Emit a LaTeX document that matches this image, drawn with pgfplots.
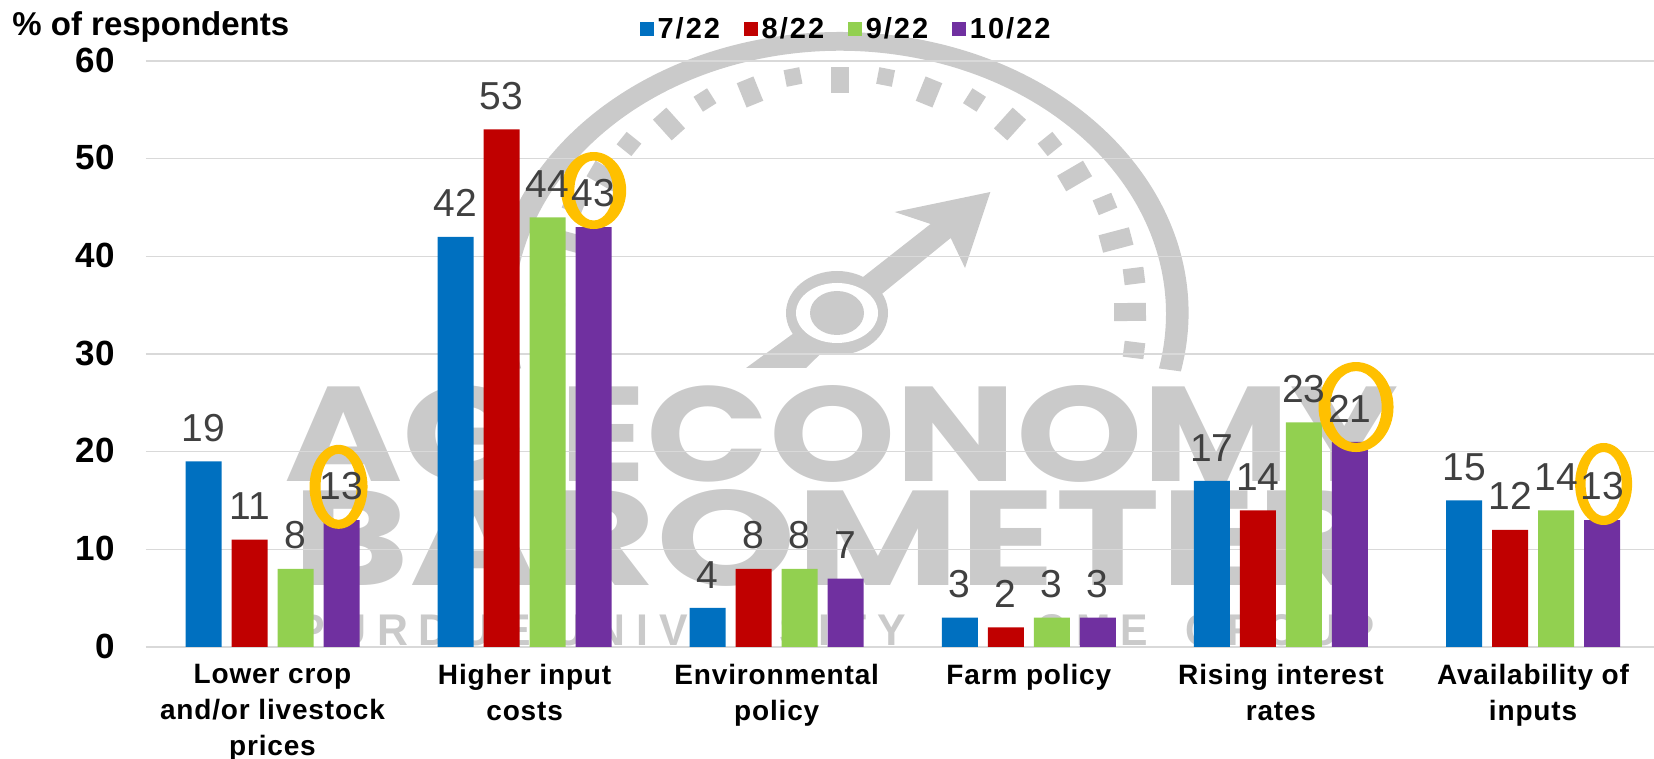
\documentclass[border=0pt]{standalone}
\usepackage{pgfplots}
\pgfplotsset{compat=1.18}
\usepackage{fontspec}
\usetikzlibrary{calc}
\setmainfont{Liberation Sans}
\newfontfamily\spaced[LetterSpace=3]{Liberation Sans}
\newfontfamily\lspaced[LetterSpace=7]{Liberation Sans}
\newfontfamily\wspaced[LetterSpace=25]{Liberation Sans}
\newfontfamily\wmf{Poppins}
\definecolor{wm}{HTML}{CACACA}
\definecolor{gridc}{HTML}{D9D9D9}
\definecolor{cblue}{HTML}{0070C0}
\definecolor{cred}{HTML}{C00000}
\definecolor{cgreen}{HTML}{92D050}
\definecolor{cpurple}{HTML}{7030A0}
\definecolor{ring}{HTML}{FFC000}
\definecolor{lab}{HTML}{404040}
\begin{document}
\begin{tikzpicture}
\useasboundingbox (-73pt,-56pt) rectangle (754pt,323.5pt);
% watermark, in reference pixels
\begin{scope}[x=0.5pt,y=-0.5pt,yshift=323.5pt,xshift=-73pt]
\fill[wm] (839.5,313) ++(12:349 and 281) arc[start angle=12,end angle=-192,x radius=349,y radius=281]
  -- ++(23,-3) arc[start angle=-192,end angle=12,x radius=326,y radius=263] -- cycle;
\coordinate (C) at (839.5,313);
\foreach \x/\y in {839.5/80,929/92,1010/124,1074.6/176,1116/240,1130/312,750/92,669/124,604/176,563/240,549/312}
  \draw[wm,line width=9pt] ($(C)!1.055!(\x,\y)$) -- ($(C)!0.945!(\x,\y)$);
\foreach \x/\y in {885.6/77,974.5/100,1050/144,1105/204,1134/276,1134/350,793/77,705/100,629/144,574/204,545/276,545/350}
  \draw[wm,line width=8pt] ($(C)!1.035!(\x,\y)$) -- ($(C)!0.965!(\x,\y)$);
\fill[wm] (990.4,192) -- (894.6,212) -- (930.6,224) -- (863,277) -- (794,333) -- (746,368) -- (806,368) -- (883,293) -- (950.7,238) -- (965,268) -- cycle;
\fill[wm] (837,313) ellipse[x radius=51,y radius=42];
\fill[white] (837,313) ellipse[x radius=41,y radius=30];
\fill[wm] (837,313) ellipse[x radius=27,y radius=22];
\node[anchor=base west,inner sep=0pt,text=wm] at (284,482) {\resizebox{557pt}{48pt}{\fontsize{68pt}{68pt}\selectfont\wmf\bfseries AG ECONOMY}};
\node[anchor=base west,inner sep=0pt,text=wm] at (292,586) {\resizebox{540pt}{48pt}{\fontsize{68pt}{68pt}\selectfont\wmf\bfseries BAROMETER}};
\node[anchor=base west,inner sep=0pt,text=wm] at (296,646) {\resizebox{305pt}{15.5pt}{\fontsize{21pt}{21pt}\selectfont\bfseries\wspaced PURDUE UNIVERSITY}};
\node[anchor=base west,inner sep=0pt,text=wm] at (1036,646) {\resizebox{56pt}{15.5pt}{\fontsize{21pt}{21pt}\selectfont\bfseries\wspaced CME}};
\node[anchor=base west,inner sep=0pt,text=wm] at (1185,646) {\resizebox{94.5pt}{15.5pt}{\fontsize{21pt}{21pt}\selectfont\bfseries\wspaced GROUP}};
\end{scope}
\begin{axis}[
  /pgf/number format/assume math mode=true,
  scale only axis,
  width=754pt,height=293pt,
  xmin=-0.5018,xmax=5.4799,ymin=0,ymax=60,
  axis line style={draw=none},
  axis x line*=bottom,
  axis y line*=left,
  major tick length=0pt,
  ymajorgrids,
  grid style={gridc,line width=0.7pt},
  ytick={0,10,...,60},
  xtick={0,...,5},
  xticklabels={{Lower crop\\and/or livestock\\prices},{Higher input\\costs},{Environmental\\policy},{Farm policy},{Rising interest\\rates},{Availability of\\inputs}},
  xticklabel style={font=\fontsize{14pt}{18pt}\selectfont\bfseries\spaced,align=center,text=black,anchor=north,yshift=-5pt},
  yticklabel style={font=\fontsize{17.5pt}{17.5pt}\selectfont\bfseries,text=black,yshift=0.5pt},
  y tick label style={xshift=-12pt},
  ybar,
  bar width=18pt,
  nodes near coords,
  nodes near coords style={font=\fontsize{19.5pt}{19.5pt}\selectfont,text=lab,inner sep=0pt,anchor=south,yshift=9.7pt},
  legend columns=4,
  legend style={draw=none,fill=none,at={(axis description cs:0.327,1.026)},anchor=south west,inner sep=0pt,
    font=\fontsize{14.5pt}{14.5pt}\selectfont\bfseries\lspaced,
    /tikz/every even column/.append style={column sep=9.8pt}},
  legend image code/.code={\fill[#1,draw=none] (0pt,-3.5pt) rectangle (7pt,3.5pt);},
  clip=false,
  extra y ticks={0},
  extra y tick labels={},
  extra y tick style={grid style={gridc,line width=1pt}},
]
\addplot[fill=cblue,draw=none,bar shift=-34.5pt] coordinates {(0,19)(1,42)(2,4)(3,3)(4,17)(5,15)};
\addlegendentry{7/22}
\addplot[fill=cred,draw=none,bar shift=-11.5pt] coordinates {(0,11)(1,53)(2,8)(3,2)(4,14)(5,12)};
\addlegendentry{8/22}
\addplot[fill=cgreen,draw=none,bar shift=11.5pt] coordinates {(0,8)(1,44)(2,8)(3,3)(4,23)(5,14)};
\addlegendentry{9/22}
\addplot[fill=cpurple,draw=none,bar shift=34.5pt] coordinates {(0,13)(1,43)(2,7)(3,3)(4,21)(5,13)};
\addlegendentry{10/22}
\fill[ring,even odd rule] (axis cs:0.262,16.4) ellipse[x radius=14.5pt,y radius=21pt] (axis cs:0.262,16.4) ellipse[x radius=9pt,y radius=16.5pt];
\fill[ring,even odd rule] (axis cs:1.274,46.74) ellipse[x radius=16.25pt,y radius=19.25pt] (axis cs:1.274,46.74) ellipse[x radius=9.65pt,y radius=15pt];
\fill[ring,even odd rule] (axis cs:4.298,24.57) ellipse[x radius=18.75pt,y radius=22.5pt] (axis cs:4.298,24.57) ellipse[x radius=12.8pt,y radius=18pt];
\fill[ring,even odd rule] (axis cs:5.28,16.69) ellipse[x radius=14.25pt,y radius=20.5pt] (axis cs:5.28,16.69) ellipse[x radius=9pt,y radius=16pt];
\end{axis}
\node[anchor=base west,inner sep=0pt,font=\fontsize{16.5pt}{16.5pt}\selectfont\bfseries] at (-67pt,305.5pt) {\% of respondents};
\end{tikzpicture}
\end{document}
